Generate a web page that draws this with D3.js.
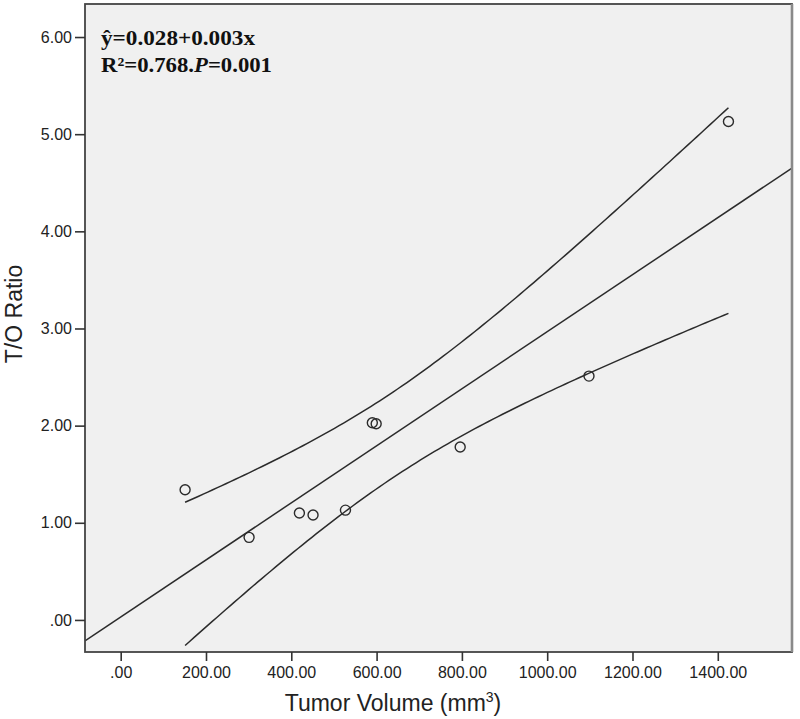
<!DOCTYPE html>
<html>
<head>
<meta charset="utf-8">
<script src="https://cdn.jsdelivr.net/npm/d3@7"></script>
<style>
  html, body { margin: 0; padding: 0; background: #ffffff; }
  svg { display: block; }
</style>
</head>
<body>
<svg id="chart" width="800" height="719"></svg>
<script>
// ---- data ----
const tumorVolume = [151, 301, 419, 451, 527, 590, 599, 796, 1098, 1425];
const toRatio     = [1.34, 0.85, 1.10, 1.08, 1.13, 2.03, 2.02, 1.78, 2.51, 5.13];
const xTickValues = [0, 200, 400, 600, 800, 1000, 1200, 1400];
const yTickValues = [0, 1, 2, 3, 4, 5, 6];
const xTitle = "Tumor Volume (mm";
const yTitle = "T/O Ratio";
const eqLine = "ŷ=0.028+0.003x";
const tCrit = 2.306; // t(0.975, df = 8) for the 95% mean confidence band

// ---- layout ----
const svg = d3.select("#chart");
const plot = { left: 85, right: 792, top: 4, bottom: 652 };

const x = d3.scaleLinear().domain([-83.7, 1574]).range([plot.left, plot.right]);
const y = d3.scaleLinear().domain([-0.33, 6.34]).range([plot.bottom, plot.top]);

const fmt = d => d === 0 ? ".00" : d.toFixed(2);

// background
svg.append("rect")
  .attr("x", plot.left).attr("y", plot.top)
  .attr("width", plot.right - plot.left).attr("height", plot.bottom - plot.top)
  .attr("fill", "#f0f0f0");

svg.append("clipPath").attr("id", "clip")
  .append("rect")
  .attr("x", plot.left).attr("y", plot.top)
  .attr("width", plot.right - plot.left).attr("height", plot.bottom - plot.top);

// ---- least squares fit and 95% CI for the mean ----
const pts = tumorVolume.map((v, i) => ({ x: v, y: toRatio[i] }));
const n = pts.length;
const mx = d3.mean(tumorVolume), my = d3.mean(toRatio);
const sxx = d3.sum(tumorVolume, v => (v - mx) * (v - mx));
const sxy = d3.sum(pts, p => (p.x - mx) * (p.y - my));
const slope = sxy / sxx;
const intercept = my - slope * mx;
const sse = d3.sum(pts, p => Math.pow(p.y - (intercept + slope * p.x), 2));
const s = Math.sqrt(sse / (n - 2));
const fit = v => intercept + slope * v;
const half = v => tCrit * s * Math.sqrt(1 / n + (v - mx) * (v - mx) / sxx);

const xMin = d3.min(tumorVolume), xMax = d3.max(tumorVolume);
const bandX = d3.range(0, 121).map(i => xMin + (xMax - xMin) * i / 120);

const lineGen = d3.line().x(d => x(d[0])).y(d => y(d[1]));
const g = svg.append("g").attr("clip-path", "url(#clip)");

// fit line across the full frame
g.append("path")
  .attr("d", lineGen(x.domain().map(v => [v, fit(v)])))
  .attr("fill", "none").attr("stroke", "#2b2b2b").attr("stroke-width", 1.5);

g.append("path")
  .attr("d", lineGen(bandX.map(v => [v, fit(v) + half(v)])))
  .attr("fill", "none").attr("stroke", "#2b2b2b").attr("stroke-width", 1.5);
g.append("path")
  .attr("d", lineGen(bandX.map(v => [v, fit(v) - half(v)])))
  .attr("fill", "none").attr("stroke", "#2b2b2b").attr("stroke-width", 1.5);

// points
g.selectAll("circle.pt").data(pts).enter().append("circle")
  .attr("class", "pt")
  .attr("cx", d => x(d.x)).attr("cy", d => y(d.y))
  .attr("r", 5)
  .attr("fill", "none").attr("stroke", "#2b2b2b").attr("stroke-width", 1.4);

// frame
svg.append("rect")
  .attr("x", plot.left).attr("y", plot.top)
  .attr("width", plot.right - plot.left).attr("height", plot.bottom - plot.top)
  .attr("fill", "none").attr("stroke", "#444").attr("stroke-width", 1.8);
svg.append("line")
  .attr("x1", plot.right).attr("x2", plot.right)
  .attr("y1", plot.top).attr("y2", plot.bottom)
  .attr("stroke", "#8a8a8a").attr("stroke-width", 2.6);

// ---- axes ----
const xAxis = svg.append("g")
  .attr("transform", `translate(0,${plot.bottom})`)
  .call(d3.axisBottom(x).tickValues(xTickValues).tickFormat(fmt).tickSize(9).tickPadding(6));
const yAxis = svg.append("g")
  .attr("transform", `translate(${plot.left},0)`)
  .call(d3.axisLeft(y).tickValues(yTickValues).tickFormat(fmt).tickSize(10).tickPadding(3));

[xAxis, yAxis].forEach(a => {
  a.select(".domain").remove();
  a.selectAll(".tick line").attr("stroke", "#333").attr("stroke-width", 1.6);
  a.selectAll(".tick text")
    .attr("fill", "#222")
    .style("font-family", "'Liberation Sans', Arial, sans-serif")
    .style("font-size", "16px");
});

// axis titles
const xt = svg.append("text")
  .attr("x", 393).attr("y", 711)
  .attr("text-anchor", "middle")
  .attr("fill", "#222")
  .style("font-family", "'Liberation Sans', Arial, sans-serif")
  .style("font-size", "23px");
xt.append("tspan").text(xTitle);
xt.append("tspan").attr("dy", -9).style("font-size", "14px").text("3");
xt.append("tspan").attr("dy", 9).text(")");

svg.append("text")
  .attr("transform", "translate(22,314) rotate(-90)")
  .attr("text-anchor", "middle")
  .attr("fill", "#222")
  .style("font-family", "'Liberation Sans', Arial, sans-serif")
  .style("font-size", "23px")
  .text(yTitle);

// ---- annotation ----
const annoFont = "'Liberation Serif', 'Times New Roman', serif";
svg.append("text")
  .attr("x", 101).attr("y", 45)
  .attr("fill", "#111")
  .attr("textLength", 154).attr("lengthAdjust", "spacingAndGlyphs")
  .style("font-family", annoFont).style("font-size", "22px").style("font-weight", "bold")
  .text(eqLine);

const r2 = svg.append("text")
  .attr("x", 101).attr("y", 72)
  .attr("fill", "#111")
  .attr("textLength", 171).attr("lengthAdjust", "spacingAndGlyphs")
  .style("font-family", annoFont).style("font-size", "22px").style("font-weight", "bold");
r2.append("tspan").text("R²=0.768.");
r2.append("tspan").style("font-style", "italic").text("P");
r2.append("tspan").text("=0.001");
</script>
</body>
</html>
